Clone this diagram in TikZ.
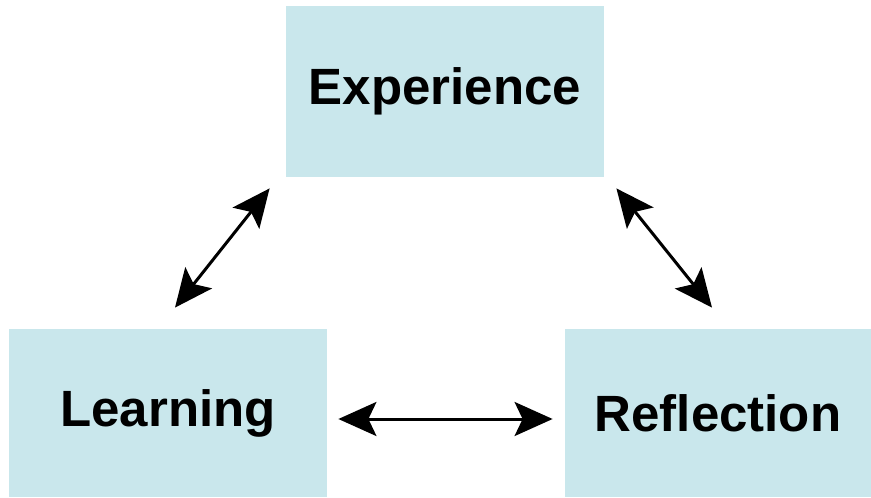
\documentclass[tikz,border=0pt]{standalone}
\usepackage{fontspec}
\setmainfont{Liberation Sans}
\usetikzlibrary{calc,arrows.meta}

\definecolor{boxblue}{HTML}{C9E7EC}

\begin{document}
\begin{tikzpicture}[x=0.5pt, y=-0.5pt,
	box/.style={fill=boxblue, draw=none, inner sep=0pt, font=\fontsize{25.5}{30}\selectfont\bfseries},
	link/.style={{Stealth[length=19pt,width=17pt,inset=4pt]}-{Stealth[length=19pt,width=17pt,inset=4pt]}, line width=1.5pt}]
	
	\useasboundingbox (0,0) rectangle (871,497);
	
	\node[box, minimum width=159pt, minimum height=85.5pt] (exp) at (445,91.5) {Experience};
	\node[box, minimum width=159pt, minimum height=84pt] (learn) at (168,413) {Learning};
	\node[box, minimum width=153pt, minimum height=84pt] (refl) at (718,413) {Reflection};
	
	\coordinate (e1) at ($(exp.south west)+(-16,11)$);
	\coordinate (l1) at ($(learn.north)+(7,-21)$);
	\coordinate (e2) at ($(exp.south east)+(12,11)$);
	\coordinate (r1) at ($(refl.north)+(-6,-21)$);
	\coordinate (l2) at ($(learn.east)+(11,6)$);
	\coordinate (r2) at ($(refl.west)+(-12,6)$);
	
	\draw[link] (e1) -- (l1);
	\draw[link] (e2) -- (r1);
	\draw[link] (l2) -- (r2);
	
\end{tikzpicture}
\end{document}
